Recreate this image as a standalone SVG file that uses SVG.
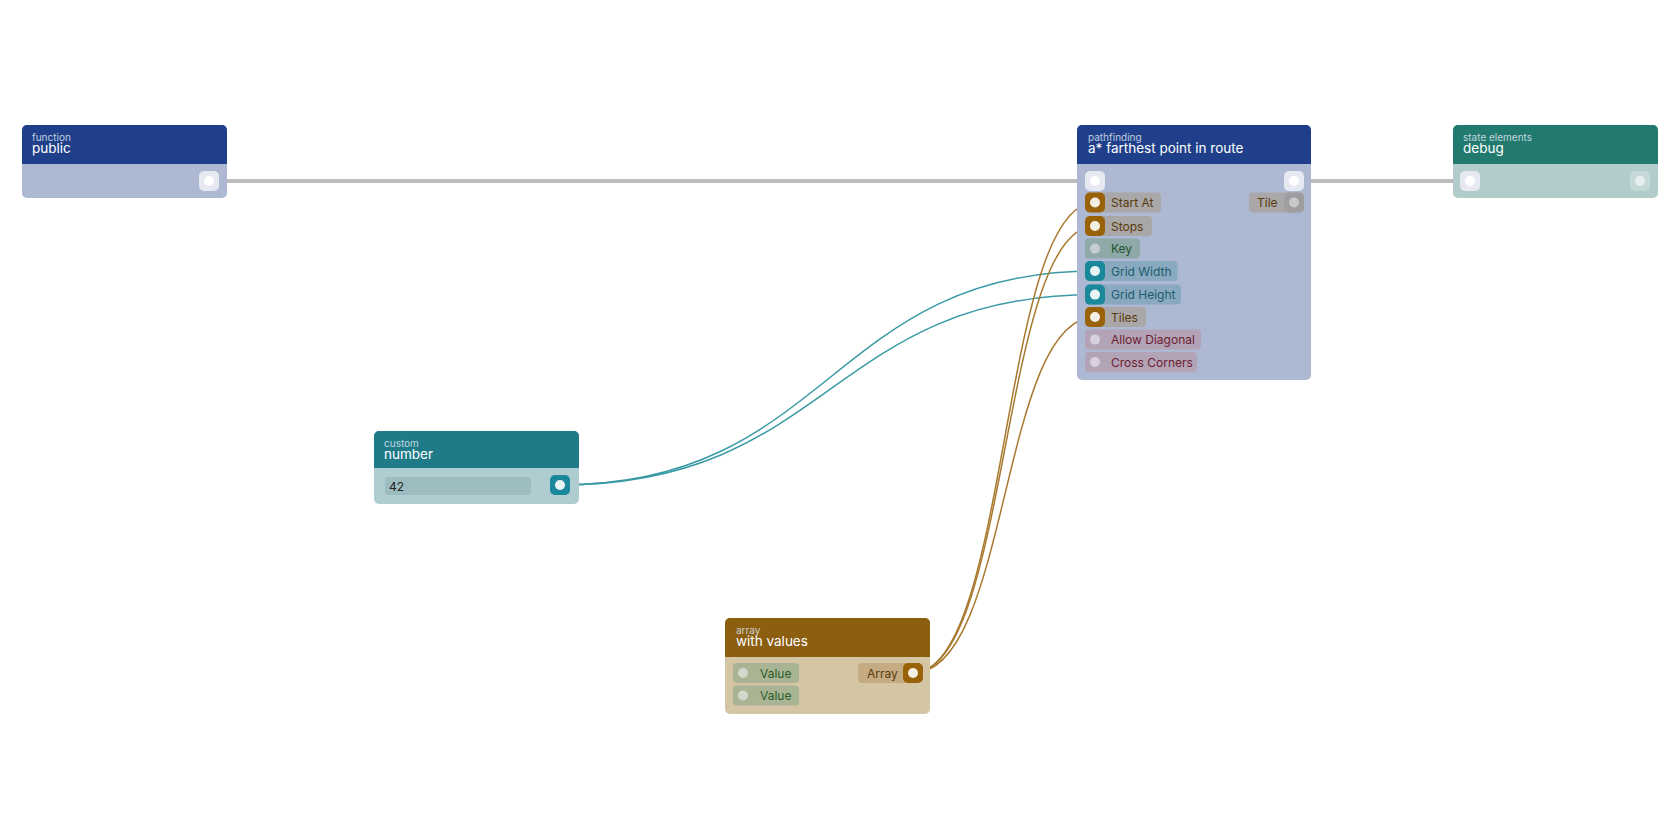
<svg xmlns="http://www.w3.org/2000/svg" width="1680" height="840" viewBox="0 0 1680 840">
<style>
text{font-family:Inter,"Liberation Sans",sans-serif}
.cat{font-size:10px;fill:#dfe4ef;opacity:.85}
.ttl{font-size:13.5px;fill:#fff}
.lbl{font-size:12px}
.exec{fill:#e6e9f1}
.dot{fill:#f4efe6}
</style>
<rect width="1680" height="840" fill="#fff"/>
<g id="connectors" fill="none">
<path d="M209 181H1095" stroke="#bdbdbd" stroke-width="4"/>
<path d="M1294 181H1470" stroke="#bdbdbd" stroke-width="4"/>
<path d="M560 485C830 485 830 271 1095 271" stroke="#3a9aa6" stroke-width="1.5"/>
<path d="M560 485C830 485 830 294.6 1095 294.6" stroke="#3a9aa6" stroke-width="1.5"/>
<path d="M913 673C1010 673 1000 202.5 1095 202.5" stroke="#a87a30" stroke-width="1.5"/>
<path d="M913 673C1010 673 1000 226 1095 226" stroke="#a87a30" stroke-width="1.5"/>
<path d="M913 673C1010 673 1000 317 1095 317" stroke="#a87a30" stroke-width="1.5"/>
</g>
<g id="node-public">
<rect x="22" y="125" width="205" height="73" rx="5" fill="#adb8d3"/>
<path d="M22 164V130a5 5 0 0 1 5-5H222a5 5 0 0 1 5 5V164Z" fill="#1f3f8a"/>
<text x="32" y="141" class="cat">function</text><text x="32" y="153" class="ttl">public</text>
<rect x="199" y="171" width="20" height="20" rx="5" class="exec"/><circle cx="209" cy="181" r="5" fill="#fff"/>
</g>
<g id="node-pathfinding">
<rect x="1077" y="125" width="234" height="255" rx="5" fill="#adb8d3"/>
<path d="M1077 164V130a5 5 0 0 1 5-5H1306a5 5 0 0 1 5 5V164Z" fill="#1f3f8a"/>
<text x="1088" y="141" class="cat">pathfinding</text><text x="1088" y="153" class="ttl">a* farthest point in route</text>
<rect x="1085" y="171" width="20" height="20" rx="5" class="exec"/><circle cx="1095" cy="181" r="5" fill="#fff"/>
<rect x="1284" y="171" width="20" height="20" rx="5" class="exec"/><circle cx="1294" cy="181" r="5" fill="#fff"/>
<rect x="1085" y="192.5" width="76" height="20" rx="4" fill="#a9a7a8"/><rect x="1085" y="192.5" width="20" height="20" rx="5" fill="#9a6208"/><circle cx="1095" cy="202.5" r="5" class="dot"/><text x="1111" y="207" class="lbl" fill="#5a3a08">Start At</text>
<rect x="1085" y="216" width="67" height="20" rx="4" fill="#a9a7a8"/><rect x="1085" y="216" width="20" height="20" rx="5" fill="#9a6208"/><circle cx="1095" cy="226" r="5" class="dot"/><text x="1111" y="230.5" class="lbl" fill="#5a3a08">Stops</text>
<rect x="1085" y="238.6" width="55" height="20" rx="4" fill="#8fa8a8"/><circle cx="1095" cy="248.6" r="5" fill="#c4cdd3"/><text x="1111" y="253" class="lbl" fill="#22552d">Key</text>
<rect x="1085" y="261" width="92.5" height="20" rx="4" fill="#89a9c0"/><rect x="1085" y="261" width="20" height="20" rx="5" fill="#18889a"/><circle cx="1095" cy="271" r="5" fill="#e8f4f4"/><text x="1111" y="275.5" class="lbl" fill="#1e5d6d">Grid Width</text>
<rect x="1085" y="284.6" width="96" height="20" rx="4" fill="#89a9c0"/><rect x="1085" y="284.6" width="20" height="20" rx="5" fill="#18889a"/><circle cx="1095" cy="294.6" r="5" fill="#e8f4f4"/><text x="1111" y="299" class="lbl" fill="#1e5d6d">Grid Height</text>
<rect x="1085" y="307" width="61" height="20" rx="4" fill="#a9a7a8"/><rect x="1085" y="307" width="20" height="20" rx="5" fill="#9a6208"/><circle cx="1095" cy="317" r="5" class="dot"/><text x="1111" y="321.5" class="lbl" fill="#5a3a08">Tiles</text>
<rect x="1085" y="329.6" width="116" height="20" rx="4" fill="#b3a3b6"/><circle cx="1095" cy="339.6" r="5" fill="#d8d0dc"/><text x="1111" y="344" class="lbl" fill="#6b2030">Allow Diagonal</text>
<rect x="1085" y="352" width="112" height="20" rx="4" fill="#b3a3b6"/><circle cx="1095" cy="362" r="5" fill="#d8d0dc"/><text x="1111" y="366.5" class="lbl" fill="#6b2030">Cross Corners</text>
<rect x="1249" y="192.5" width="55" height="20" rx="4" fill="#a9a7a8"/><rect x="1284" y="192.5" width="20" height="20" rx="5" fill="#9f9d9f"/><circle cx="1294" cy="202.5" r="5" fill="#c9c9c9"/><text x="1257" y="207" class="lbl" fill="#5a3a08">Tile</text>
</g>
<g id="node-debug">
<rect x="1453" y="125" width="205" height="73" rx="5" fill="#b1cccb"/>
<path d="M1453 164V130a5 5 0 0 1 5-5H1653a5 5 0 0 1 5 5V164Z" fill="#227a6e"/>
<text x="1463" y="141" class="cat">state elements</text><text x="1463" y="153" class="ttl">debug</text>
<rect x="1460" y="171" width="20" height="20" rx="5" class="exec"/><circle cx="1470" cy="181" r="5" fill="#fff"/>
<rect x="1630" y="171" width="20" height="20" rx="5" fill="#c5d9d8"/><circle cx="1640" cy="181" r="5" fill="#e6eeee"/>
</g>
<g id="node-number">
<rect x="374" y="431" width="205" height="73" rx="5" fill="#afcdd1"/>
<path d="M374 468V436a5 5 0 0 1 5-5H574a5 5 0 0 1 5 5V468Z" fill="#1e7b87"/>
<text x="384" y="447" class="cat">custom</text><text x="384" y="459" class="ttl">number</text>
<rect x="385" y="477" width="146" height="18" rx="4" fill="#9dbcbf"/><text x="389" y="490.5" class="lbl" fill="#222">42</text>
<rect x="550" y="475" width="20" height="20" rx="5" fill="#18889a"/><circle cx="560" cy="485" r="5" fill="#e8f4f4"/>
</g>
<g id="node-array">
<rect x="725" y="618" width="205" height="96" rx="5" fill="#d4c5a5"/>
<path d="M725 657V623a5 5 0 0 1 5-5H925a5 5 0 0 1 5 5V657Z" fill="#8b5e10"/>
<text x="736" y="634" class="cat">array</text><text x="736" y="646" class="ttl">with values</text>
<rect x="858" y="663" width="63" height="20" rx="4" fill="#c4ab82"/><rect x="903" y="663" width="20" height="20" rx="5" fill="#9a6208"/><circle cx="913" cy="673" r="5" class="dot"/><text x="867" y="677.5" class="lbl" fill="#5a3a08">Array</text>
<rect x="733" y="663" width="66" height="20" rx="4" fill="#a8b493"/><circle cx="743" cy="673" r="5" fill="#d5d9cc"/><text x="760" y="677.5" class="lbl" fill="#2b5c2b">Value</text>
<rect x="733" y="685.5" width="66" height="20" rx="4" fill="#a8b493"/><circle cx="743" cy="695.5" r="5" fill="#d5d9cc"/><text x="760" y="700" class="lbl" fill="#2b5c2b">Value</text>
</g>
</svg>
